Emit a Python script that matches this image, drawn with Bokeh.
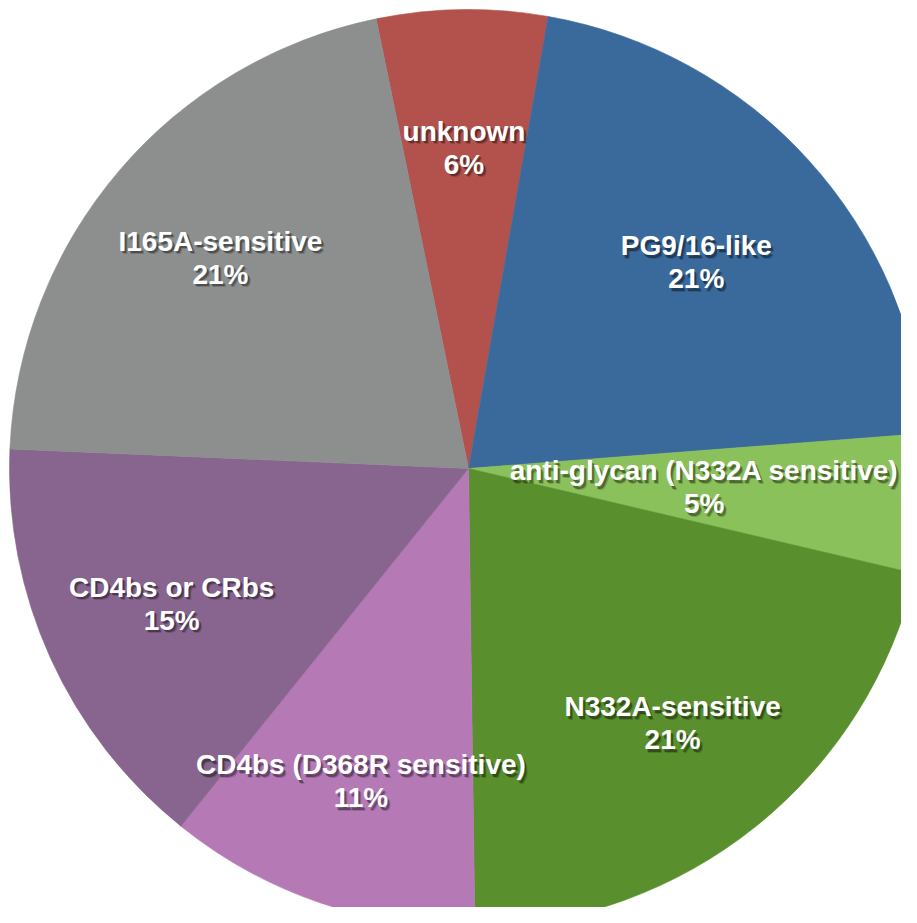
import numpy as np
from bokeh.plotting import figure
from bokeh.models import Range1d, ColumnDataSource
from bokeh.core.properties import value
from bokeh.embed import file_html
from bokeh.resources import INLINE

# ---- data (clockwise from top) ----
categories = ["unknown", "PG9/16-like", "anti-glycan (N332A sensitive)",
              "N332A-sensitive", "CD4bs (D368R sensitive)", "CD4bs or CRbs",
              "I165A-sensitive"]
shares = [6.0, 21.0, 4.9, 21.1, 11.0, 14.9, 21.1]
colors = ["#b3524c", "#3a6a9c", "#8bc15a", "#5a8f2e", "#b57ab6", "#88658e", "#8c8f8e"]
label_radius = [0.70, 0.67, 0.515, 0.71, 0.72, 0.71, 0.71]

start_deg = -11.6  # clockwise from 12 o'clock

vals = np.array(shares, dtype=float)
frac = vals / vals.sum()
cum = np.concatenate([[0.0], np.cumsum(frac)]) * 360.0 + start_deg
theta1 = cum[:-1]
theta2 = cum[1:]
start_angle = np.deg2rad(90.0 - theta2)
end_angle = np.deg2rad(90.0 - theta1)
mid = np.deg2rad(90.0 - (theta1 + theta2) / 2.0)
lr = np.array(label_radius)
lx = lr * np.cos(mid)
ly = lr * np.sin(mid)
pct = [f"{int(round(v))}%" for v in vals]

src = ColumnDataSource(dict(cat=categories, start=start_angle, end=end_angle,
                            color=colors, lx=lx, ly=ly, pct=pct))

W, H = 901, 907
R_PX = 459.0
CX, CY = 468.0, 468.0
x0 = (0 - CX) / R_PX
x1 = (W - CX) / R_PX
y1 = CY / R_PX
y0 = (CY - H) / R_PX

p = figure(width=W, height=H, output_backend="svg", toolbar_location=None,
           x_range=Range1d(x0, x1), y_range=Range1d(y0, y1),
           min_border=0, outline_line_color=None)
p.axis.visible = False
p.grid.visible = False
p.background_fill_color = "white"
p.border_fill_color = "white"

p.wedge(x=0, y=0, radius=1.0, start_angle="start", end_angle="end",
        fill_color="color", line_color="color", line_width=0.6, source=src)

font = value("Liberation Sans")
common = dict(text_font=font, text_font_size="28px", text_font_style="bold",
              text_align="center", text_baseline="middle", source=src)

# soft shadow
for dx, dy, a in [(3, 3.5, 0.18), (2, 2.5, 0.35)]:
    p.text(x="lx", y="ly", text="cat", x_offset=dx, y_offset=-16 + dy,
           text_color="black", text_alpha=a, **common)
    p.text(x="lx", y="ly", text="pct", x_offset=dx, y_offset=17 + dy,
           text_color="black", text_alpha=a, **common)

p.text(x="lx", y="ly", text="cat", y_offset=-16, text_color="white", **common)
p.text(x="lx", y="ly", text="pct", y_offset=17, text_color="white", **common)

open("out.html", "w").write(file_html(p, INLINE))
